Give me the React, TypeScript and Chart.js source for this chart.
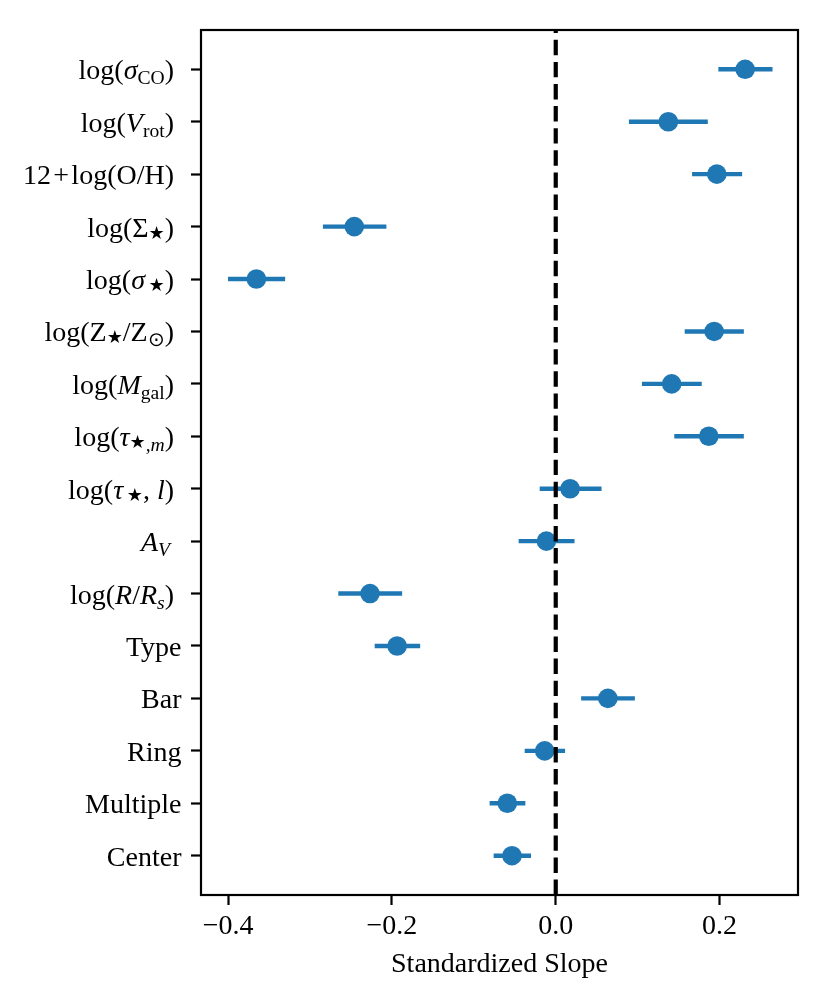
import React, { useEffect, useRef } from 'react';
import { Chart, registerables } from 'chart.js';

Chart.register(...registerables);

// ---------- data ----------
const CATEGORIES = [
  'log(σ_CO)', 'log(V_rot)', '12+log(O/H)', 'log(Σ★)', 'log(σ★)', 'log(Z★/Z⊙)',
  'log(M_gal)', 'log(τ★,m)', 'log(τ★, l)', 'A_V', 'log(R/R_s)',
  'Type', 'Bar', 'Ring', 'Multiple', 'Center',
];
const SLOPE = [0.2312, 0.1374, 0.1966, -0.2459, -0.3654, 0.1933, 0.1415, 0.1868, 0.0175, -0.0114, -0.2267, -0.1936, 0.0636, -0.0135, -0.0591, -0.0534];
const ERR_LOW = [0.1985, 0.0893, 0.1664, -0.2842, -0.4, 0.1574, 0.1052, 0.1447, -0.0196, -0.0453, -0.2654, -0.221, 0.031, -0.0379, -0.0807, -0.0758];
const ERR_HIGH = [0.2646, 0.1856, 0.2275, -0.2067, -0.3303, 0.2296, 0.1782, 0.2296, 0.0559, 0.0229, -0.1875, -0.1655, 0.0966, 0.0114, -0.0371, -0.0302];
const XTICKS = [-0.4, -0.2, 0.0, 0.2];
const XTICK_LABELS = ['\u22120.4', '\u22120.2', '0.0', '0.2'];
const X_TITLE = 'Standardized Slope';

// rich (math-like) rendering of the category names
const LABEL_PARTS: [string, string][][] = [
  [['log(', 'n'], ['σ', 'i'], ['CO', 's'], [')', 'n']],
  [['log(', 'n'], ['V', 'i'], ['rot', 's'], [')', 'n']],
  [['12', 'n'], ['\u200a+\u200a', 'n'], ['log(O/H)', 'n']],
  [['log(Σ', 'n'], ['★', 'st'], [')', 'n']],
  [['log(', 'n'], ['σ', 'i'], ['\u2009★', 'st'], [')', 'n']],
  [['log(Z', 'n'], ['★', 'st'], ['/Z', 'n'], ['⊙', 's'], [')', 'n']],
  [['log(', 'n'], ['M', 'i'], ['gal', 's'], [')', 'n']],
  [['log(', 'n'], ['τ', 'i'], ['★', 'st'], [',', 's'], ['m', 'si'], [')', 'n']],
  [['log(', 'n'], ['τ', 'i'], ['\u2009★', 'st'], [', ', 'n'], ['l', 'i'], [')', 'n']],
  [['A', 'i'], ['V', 'si'], ['\u2009', 's']],
  [['log(', 'n'], ['R', 'i'], ['/', 'n'], ['R', 'i'], ['s', 'si'], [')', 'n']],
  [['Type', 'n']],
  [['Bar', 'n']],
  [['Ring', 'n']],
  [['Multiple', 'n']],
  [['Center', 'n']],
];

const SERIF = '"Liberation Serif", "Times New Roman", serif';
const STYLES: Record<string, { font: string; dy: number }> = {
  n: { font: `28px ${SERIF}`, dy: 0 },
  i: { font: `italic 28px ${SERIF}`, dy: 0 },
  s: { font: `19.6px ${SERIF}`, dy: 5 },
  si: { font: `italic 19.6px ${SERIF}`, dy: 5 },
  st: { font: `18px "DejaVu Sans", sans-serif`, dy: 2 },
};

const BLUE = '#1f77b4';

const richLabels = {
  id: 'richLabels',
  afterDraw(chart: any) {
    const ctx = chart.ctx as CanvasRenderingContext2D;
    const ys = chart.scales.y;
    const area = chart.chartArea;
    ctx.save();
    // frame
    ctx.strokeStyle = '#000';
    ctx.lineWidth = 2.2;
    ctx.strokeRect(area.left, area.top, area.right - area.left, area.bottom - area.top);
    // labels
    ctx.fillStyle = '#000';
    ctx.textBaseline = 'alphabetic';
    ctx.textAlign = 'left';
    LABEL_PARTS.forEach((parts, i) => {
      const py = ys.getPixelForValue(i) + 10;
      const segs = parts.map(([t, s]) => ({ t, font: STYLES[s].font, dy: STYLES[s].dy, w: 0 }));
      let total = 0;
      segs.forEach((sg) => {
        ctx.font = sg.font;
        sg.w = ctx.measureText(sg.t).width;
        total += sg.w;
      });
      const right = parts.length > 1 ? area.left - 27 : area.left - 19.5;
      let x = right - total;
      segs.forEach((sg) => {
        ctx.font = sg.font;
        ctx.fillText(sg.t, x, py + sg.dy);
        x += sg.w;
      });
    });
    ctx.restore();
  },
};

export default function App() {
  const ref = useRef<HTMLCanvasElement | null>(null);

  useEffect(() => {
    if (!ref.current) return;
    const errorSets = ERR_LOW.map((lo, i) => ({
      type: 'line' as const,
      data: [{ x: lo, y: i }, { x: ERR_HIGH[i], y: i }],
      borderColor: BLUE,
      borderWidth: 4.4,
      pointRadius: 0,
      fill: false,
      order: 2,
    }));
    const chart = new Chart(ref.current, {
      type: 'scatter',
      data: {
        datasets: [
          {
            type: 'line',
            data: [{ x: 0, y: 15.75 }, { x: 0, y: -0.75 }],
            borderColor: '#000',
            borderWidth: 4.2,
            borderDash: [15.4, 6.7],
            pointRadius: 0,
            fill: false,
            order: 0,
          } as any,
          {
            type: 'scatter',
            data: SLOPE.map((v, i) => ({ x: v, y: i })),
            backgroundColor: BLUE,
            borderColor: BLUE,
            pointRadius: 9.8,
            pointBorderWidth: 0,
            pointHoverRadius: 9.8,
            order: 1,
          } as any,
          ...(errorSets as any[]),
        ],
      },
      options: {
        animation: false,
        responsive: true,
        maintainAspectRatio: false,
        events: [],
        layout: { padding: { top: 30, right: 32, left: 0, bottom: 0 } },
        plugins: { legend: { display: false }, tooltip: { enabled: false } },
        scales: {
          x: {
            type: 'linear',
            min: -0.433,
            max: 0.2957,
            afterBuildTicks: (s: any) => {
              s.ticks = XTICKS.map((v) => ({ value: v }));
            },
            afterFit: (s: any) => {
              s.height = 104;
            },
            ticks: {
              callback: (_v: any, i: number) => XTICK_LABELS[i],
              font: { family: SERIF, size: 28 },
              color: '#000',
              padding: 5,
              maxRotation: 0,
              autoSkip: false,
            },
            grid: { drawOnChartArea: false, drawTicks: true, tickLength: 10, tickWidth: 2.2, tickColor: '#000' },
            border: { display: false },
            title: {
              display: true,
              text: X_TITLE,
              font: { family: SERIF, size: 28 },
              color: '#000',
              padding: { top: 0, bottom: 18 },
            },
          },
          y: {
            type: 'linear',
            min: -0.75,
            max: 15.75,
            reverse: true,
            afterBuildTicks: (s: any) => {
              s.ticks = CATEGORIES.map((_c, i) => ({ value: i }));
            },
            afterFit: (s: any) => {
              s.width = 201;
            },
            ticks: { callback: () => '', autoSkip: false },
            grid: { drawOnChartArea: false, drawTicks: true, tickLength: 10, tickWidth: 2.2, tickColor: '#000' },
            border: { display: false },
          },
        },
      } as any,
      plugins: [richLabels],
    });
    return () => chart.destroy();
  }, []);

  return (
    <div style={{ position: 'absolute', left: 0, top: 0, width: 830, height: 999, background: '#fff' }}>
      <canvas ref={ref} />
    </div>
  );
}
